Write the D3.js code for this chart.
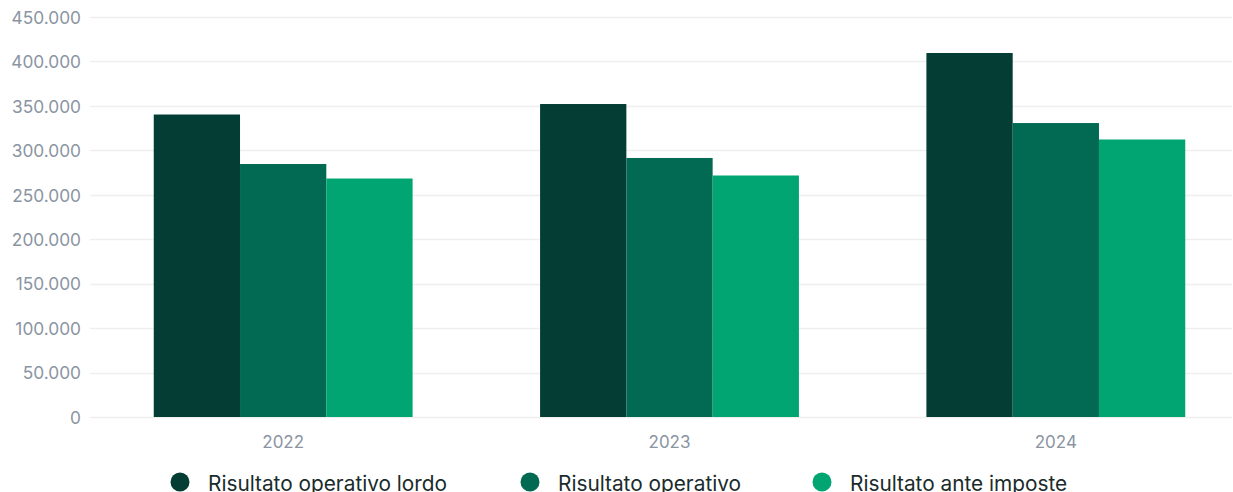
<!DOCTYPE html>
<html><head><meta charset="utf-8">
<script src="https://cdn.jsdelivr.net/npm/d3@7"></script>
<style>body{margin:0;background:#fff;overflow:hidden}svg{display:block}</style>
</head><body>
<svg id="c" width="1233" height="492"></svg>
<script>
const categories = ["2022", "2023", "2024"];
const seriesNames = ["Risultato operativo lordo", "Risultato operativo", "Risultato ante imposte"];
const lordo = [340300, 352100, 409500];
const operativo = [284600, 291400, 330700];
const anteImposte = [268300, 271700, 312200];
const yTicks = [0, 50000, 100000, 150000, 200000, 250000, 300000, 350000, 400000, 450000];
const colors = ["#043d33", "#026952", "#00a572"];

(function () {
const series = [lordo, operativo, anteImposte];
const svg = d3.select("#c");
const mLeft = 90, mRight = 1232, mTop = 17, mBottom = 417;

const y = d3.scaleLinear().domain([0, 450000]).range([mBottom, mTop]);
const x0 = d3.scaleBand().domain(categories).range([90, 1249]).paddingInner(0.33).paddingOuter(0.165);
const x1 = d3.scaleBand().domain(d3.range(series.length)).range([0, x0.bandwidth()]);

const fmt = v => v === 0 ? "0" : d3.format(",")(v).replace(/,/g, ".");

svg.append("g").selectAll("line").data(yTicks).join("line")
  .attr("x1", mLeft).attr("x2", mRight)
  .attr("y1", d => Math.round(y(d)) + 0.5).attr("y2", d => Math.round(y(d)) + 0.5)
  .attr("stroke", "#efefef").attr("stroke-width", 1.5);

const yAxis = d3.axisLeft(y).tickValues(yTicks).tickFormat(fmt).tickSize(0).tickPadding(0);
const ya = svg.append("g").attr("transform", `translate(81,0)`).call(yAxis);
ya.select(".domain").remove();
ya.selectAll("text").attr("fill", "#8a94a2").attr("font-family", "Inter, sans-serif").attr("font-size", 17.3).attr("dy", "0.36em");

const g = svg.append("g").selectAll("g").data(categories).join("g")
  .attr("transform", d => `translate(${x0(d)},0)`);
g.selectAll("rect").data((d, i) => series.map((s, k) => ({k, v: s[i]}))).join("rect")
  .attr("x", d => x1(d.k)).attr("width", x1.bandwidth())
  .attr("y", d => y(d.v)).attr("height", d => mBottom - y(d.v))
  .attr("fill", d => colors[d.k]);

const xAxis = d3.axisBottom(x0).tickSize(0).tickPadding(0);
const xa = svg.append("g").attr("transform", `translate(0,448)`).call(xAxis);
xa.select(".domain").remove();
xa.selectAll("text").attr("fill", "#8a94a2").attr("font-family", "Inter, sans-serif").attr("font-size", 17).attr("dy", 0);

const legX = [180, 530, 822];
const lg = svg.append("g").selectAll("g").data(seriesNames).join("g")
  .attr("transform", (d, i) => `translate(${legX[i]},482)`);
lg.append("circle").attr("r", 9.5).attr("fill", (d, i) => colors[i]);
lg.append("text").attr("x", 28).attr("y", 8.5).text(d => d)
  .attr("fill", "#1a2b2b").attr("font-family", "Inter, sans-serif").attr("font-size", 20.8);
})();
</script>
</body></html>
